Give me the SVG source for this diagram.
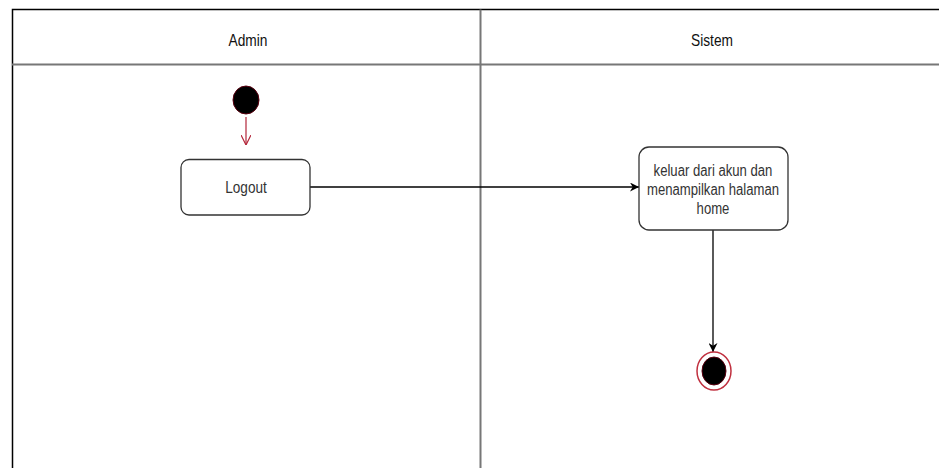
<svg xmlns="http://www.w3.org/2000/svg" width="939" height="468" viewBox="0 0 939 468">
  <defs>
    <marker id="arrowBlack" viewBox="0 0 10 10" refX="10" refY="5" markerWidth="9" markerHeight="9" markerUnits="userSpaceOnUse" orient="auto">
      <path d="M0,0 L10,5 L0,10 L3,5 Z" fill="#000"/>
    </marker>
    <marker id="arrowRed" viewBox="0 0 10 10" refX="10" refY="5" markerWidth="10" markerHeight="10" markerUnits="userSpaceOnUse" orient="auto">
      <path d="M0,0 L10,5 L0,10" fill="none" stroke="#b3263a" stroke-width="1.2"/>
    </marker>
  </defs>
  <style>
    .lane { fill: none; stroke: #000; stroke-width: 1.5; }
    .divider { stroke: #777; stroke-width: 2; }
    .header { font-family: "Liberation Sans", Arial, sans-serif; font-size: 16px; fill: #111; text-anchor: middle; }
    .label { font-family: "Liberation Sans", Arial, sans-serif; font-size: 16px; fill: #333; text-anchor: middle; }
    .action { fill: #fff; stroke: #333; stroke-width: 1.3; }
    .flow { fill: none; stroke: #000; stroke-width: 1.3; }
  </style>
  <rect width="939" height="468" fill="#fff"/>

  <!-- swimlanes -->
  <g id="lanes">
    <path class="lane" d="M12.5,468 V9.5 H939"/>
    <line class="divider" x1="12" y1="64.5" x2="939" y2="64.5"/>
    <line class="divider" x1="480.5" y1="9.5" x2="480.5" y2="468"/>
    <text class="header" transform="translate(248,46) scale(0.86,1)">Admin</text>
    <text class="header" transform="translate(712,46) scale(0.86,1)">Sistem</text>
  </g>

  <!-- connectors -->
  <g id="connectors">
    <line x1="246" y1="117" x2="246" y2="145" stroke="#b3263a" stroke-width="1.2" marker-end="url(#arrowRed)"/>
    <line class="flow" x1="310" y1="187" x2="639" y2="187" marker-end="url(#arrowBlack)"/>
    <line class="flow" x1="713" y1="230" x2="713" y2="352" marker-end="url(#arrowBlack)"/>
  </g>

  <g id="start">
    <ellipse cx="246" cy="100" rx="13" ry="14" fill="#000" stroke="#5a0010" stroke-width="1"/>
  </g>

  <g id="logout">
    <rect class="action" x="181" y="159.5" width="129" height="55.5" rx="8"/>
    <text class="label" transform="translate(246,193) scale(0.85,1)">Logout</text>
  </g>

  <g id="keluar">
    <rect class="action" x="639" y="147" width="149" height="83" rx="10"/>
    <text class="label" transform="translate(713,176) scale(0.82,1)">keluar dari akun dan</text>
    <text class="label" transform="translate(713,195) scale(0.82,1)">menampilkan halaman</text>
    <text class="label" transform="translate(713,214) scale(0.82,1)">home</text>
  </g>

  <g id="end">
    <ellipse cx="714" cy="371" rx="17" ry="19" fill="#fff" stroke="#c0303f" stroke-width="1.5"/>
    <ellipse cx="714" cy="371" rx="12" ry="14" fill="#000" stroke="#5a0010" stroke-width="1"/>
  </g>
</svg>
